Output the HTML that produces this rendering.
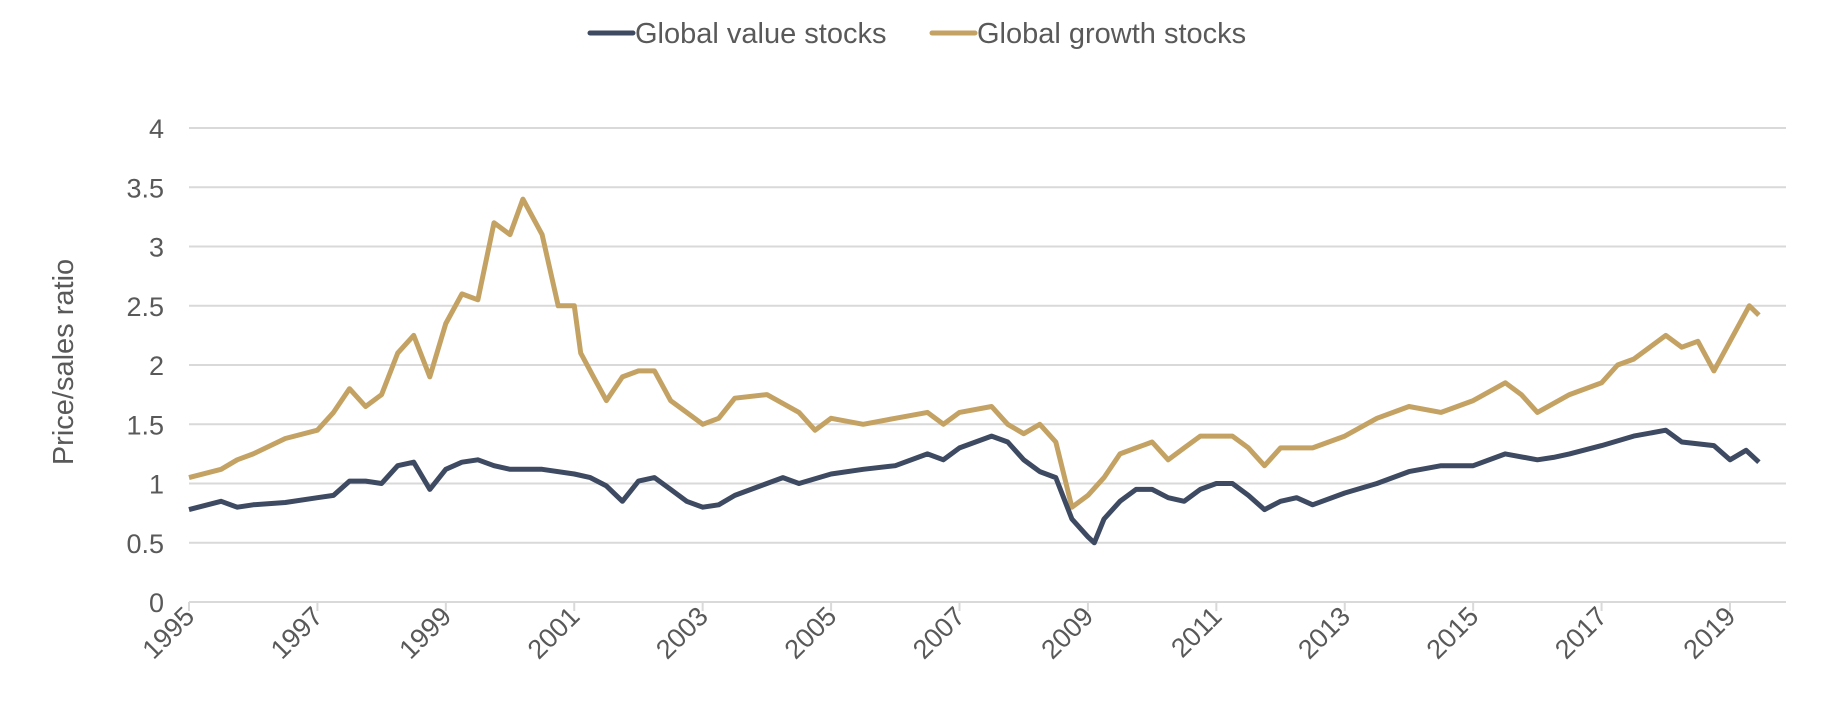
<!DOCTYPE html>
<html><head><meta charset="utf-8"><style>
body{margin:0;background:#fff;}
svg{display:block;font-family:"Liberation Sans",Arial,sans-serif;}
</style></head><body>
<svg id="chart" width="1830" height="708" viewBox="0 0 1830 708">
<g id="grid"></g>
<g id="yticks"></g>
<g id="xticks"></g>
<text transform="translate(73,362) rotate(-90)" text-anchor="middle" font-size="29" fill="#595959">Price/sales ratio</text>
<g>
<g><line x1="590" y1="33" x2="633" y2="33" stroke="#3d4a62" stroke-width="5" stroke-linecap="round"/><text x="635" y="43" font-size="29" fill="#595959">Global value stocks</text></g>
<g><line x1="932" y1="33" x2="975" y2="33" stroke="#c4a263" stroke-width="5" stroke-linecap="round"/><text x="977" y="43" font-size="29" fill="#595959">Global growth stocks</text></g>
</g>
<path id="growth" fill="none" stroke="#c4a263" stroke-width="5" stroke-linejoin="round"/>
<path id="value" fill="none" stroke="#3d4a62" stroke-width="5" stroke-linejoin="round"/>
</svg>
<script>
const yTicks=[0,0.5,1,1.5,2,2.5,3,3.5,4];
const yTickLabels=["0","0.5","1","1.5","2","2.5","3","3.5","4"];
const xTicks=[1995,1997,1999,2001,2003,2005,2007,2009,2011,2013,2015,2017,2019];
const valueDates=[1995,1995.5,1995.75,1996,1996.5,1997,1997.25,1997.5,1997.75,1998,1998.25,1998.5,1998.75,1999,1999.25,1999.5,1999.75,2000,2000.5,2001,2001.25,2001.5,2001.75,2002,2002.25,2002.5,2002.75,2003,2003.25,2003.5,2004,2004.25,2004.5,2005,2005.5,2006,2006.5,2006.75,2007,2007.5,2007.75,2008,2008.25,2008.5,2008.75,2009,2009.1,2009.25,2009.5,2009.75,2010,2010.25,2010.5,2010.75,2011,2011.25,2011.5,2011.75,2012,2012.25,2012.5,2013,2013.5,2014,2014.5,2015,2015.5,2016,2016.25,2016.5,2017,2017.5,2018,2018.25,2018.75,2019,2019.25,2019.45];
const valueSeries=[0.78,0.85,0.8,0.82,0.84,0.88,0.9,1.02,1.02,1.0,1.15,1.18,0.95,1.12,1.18,1.2,1.15,1.12,1.12,1.08,1.05,0.98,0.85,1.02,1.05,0.95,0.85,0.8,0.82,0.9,1.0,1.05,1.0,1.08,1.12,1.15,1.25,1.2,1.3,1.4,1.35,1.2,1.1,1.05,0.7,0.55,0.5,0.7,0.85,0.95,0.95,0.88,0.85,0.95,1.0,1.0,0.9,0.78,0.85,0.88,0.82,0.92,1.0,1.1,1.15,1.15,1.25,1.2,1.22,1.25,1.32,1.4,1.45,1.35,1.32,1.2,1.28,1.18];
const growthDates=[1995,1995.5,1995.75,1996,1996.5,1997,1997.25,1997.5,1997.75,1998,1998.25,1998.5,1998.75,1999,1999.25,1999.5,1999.75,2000,2000.2,2000.5,2000.75,2001,2001.1,2001.3,2001.5,2001.75,2002,2002.25,2002.5,2002.75,2003,2003.25,2003.5,2004,2004.5,2004.75,2005,2005.5,2006,2006.5,2006.75,2007,2007.5,2007.75,2008,2008.25,2008.5,2008.75,2009,2009.25,2009.5,2009.75,2010,2010.25,2010.5,2010.75,2011,2011.25,2011.5,2011.75,2012,2012.5,2013,2013.5,2014,2014.5,2015,2015.5,2015.75,2016,2016.5,2017,2017.25,2017.5,2018,2018.25,2018.5,2018.75,2019,2019.3,2019.45];
const growthSeries=[1.05,1.12,1.2,1.25,1.38,1.45,1.6,1.8,1.65,1.75,2.1,2.25,1.9,2.35,2.6,2.55,3.2,3.1,3.4,3.1,2.5,2.5,2.1,1.9,1.7,1.9,1.95,1.95,1.7,1.6,1.5,1.55,1.72,1.75,1.6,1.45,1.55,1.5,1.55,1.6,1.5,1.6,1.65,1.5,1.42,1.5,1.35,0.8,0.9,1.05,1.25,1.3,1.35,1.2,1.3,1.4,1.4,1.4,1.3,1.15,1.3,1.3,1.4,1.55,1.65,1.6,1.7,1.85,1.75,1.6,1.75,1.85,2.0,2.05,2.25,2.15,2.2,1.95,2.2,2.5,2.42];
const NS="http://www.w3.org/2000/svg";
const X0=189,X1=1786,Y0=602,Y4=128;
const xs=d=>X0+(d-1995)*(1730-189)/24;
const ys=v=>Y0-(v/4)*(Y0-Y4);
const grid=document.getElementById('grid'),yt=document.getElementById('yticks'),xt=document.getElementById('xticks');
yTicks.forEach((v,i)=>{
 const l=document.createElementNS(NS,'line');
 
 
 l.setAttribute('x1',X0);l.setAttribute('x2',X1);l.setAttribute('y1',ys(v));l.setAttribute('y2',ys(v));
 l.setAttribute('stroke','#d9d9d9');l.setAttribute('stroke-width','2');grid.appendChild(l);
 const t=document.createElementNS(NS,'text');
 
 
 t.setAttribute('x',164);t.setAttribute('y',ys(v)+10);t.setAttribute('text-anchor','end');
 t.setAttribute('font-size','27');t.setAttribute('fill','#595959');t.textContent=yTickLabels[i];yt.appendChild(t);
});
xTicks.forEach(d=>{
 const x=xs(d);
 const l=document.createElementNS(NS,'line');
 
 
 l.setAttribute('x1',x);l.setAttribute('x2',x);l.setAttribute('y1',Y0);l.setAttribute('y2',Y0+9);
 l.setAttribute('stroke','#d9d9d9');l.setAttribute('stroke-width','2');grid.appendChild(l);
 const t=document.createElementNS(NS,'text');
 
 
 t.setAttribute('transform','translate('+(x+7)+',618) rotate(-45)');t.setAttribute('text-anchor','end');
 t.setAttribute('font-size','27');t.setAttribute('fill','#595959');t.textContent=String(d);xt.appendChild(t);
});
function path(ds,vs){return ds.map((d,i)=>(i?'L':'M')+xs(d).toFixed(1)+','+ys(vs[i]).toFixed(1)).join(' ');}
document.getElementById('value').setAttribute('d',path(valueDates,valueSeries));
document.getElementById('growth').setAttribute('d',path(growthDates,growthSeries));
</script>
</body></html>
